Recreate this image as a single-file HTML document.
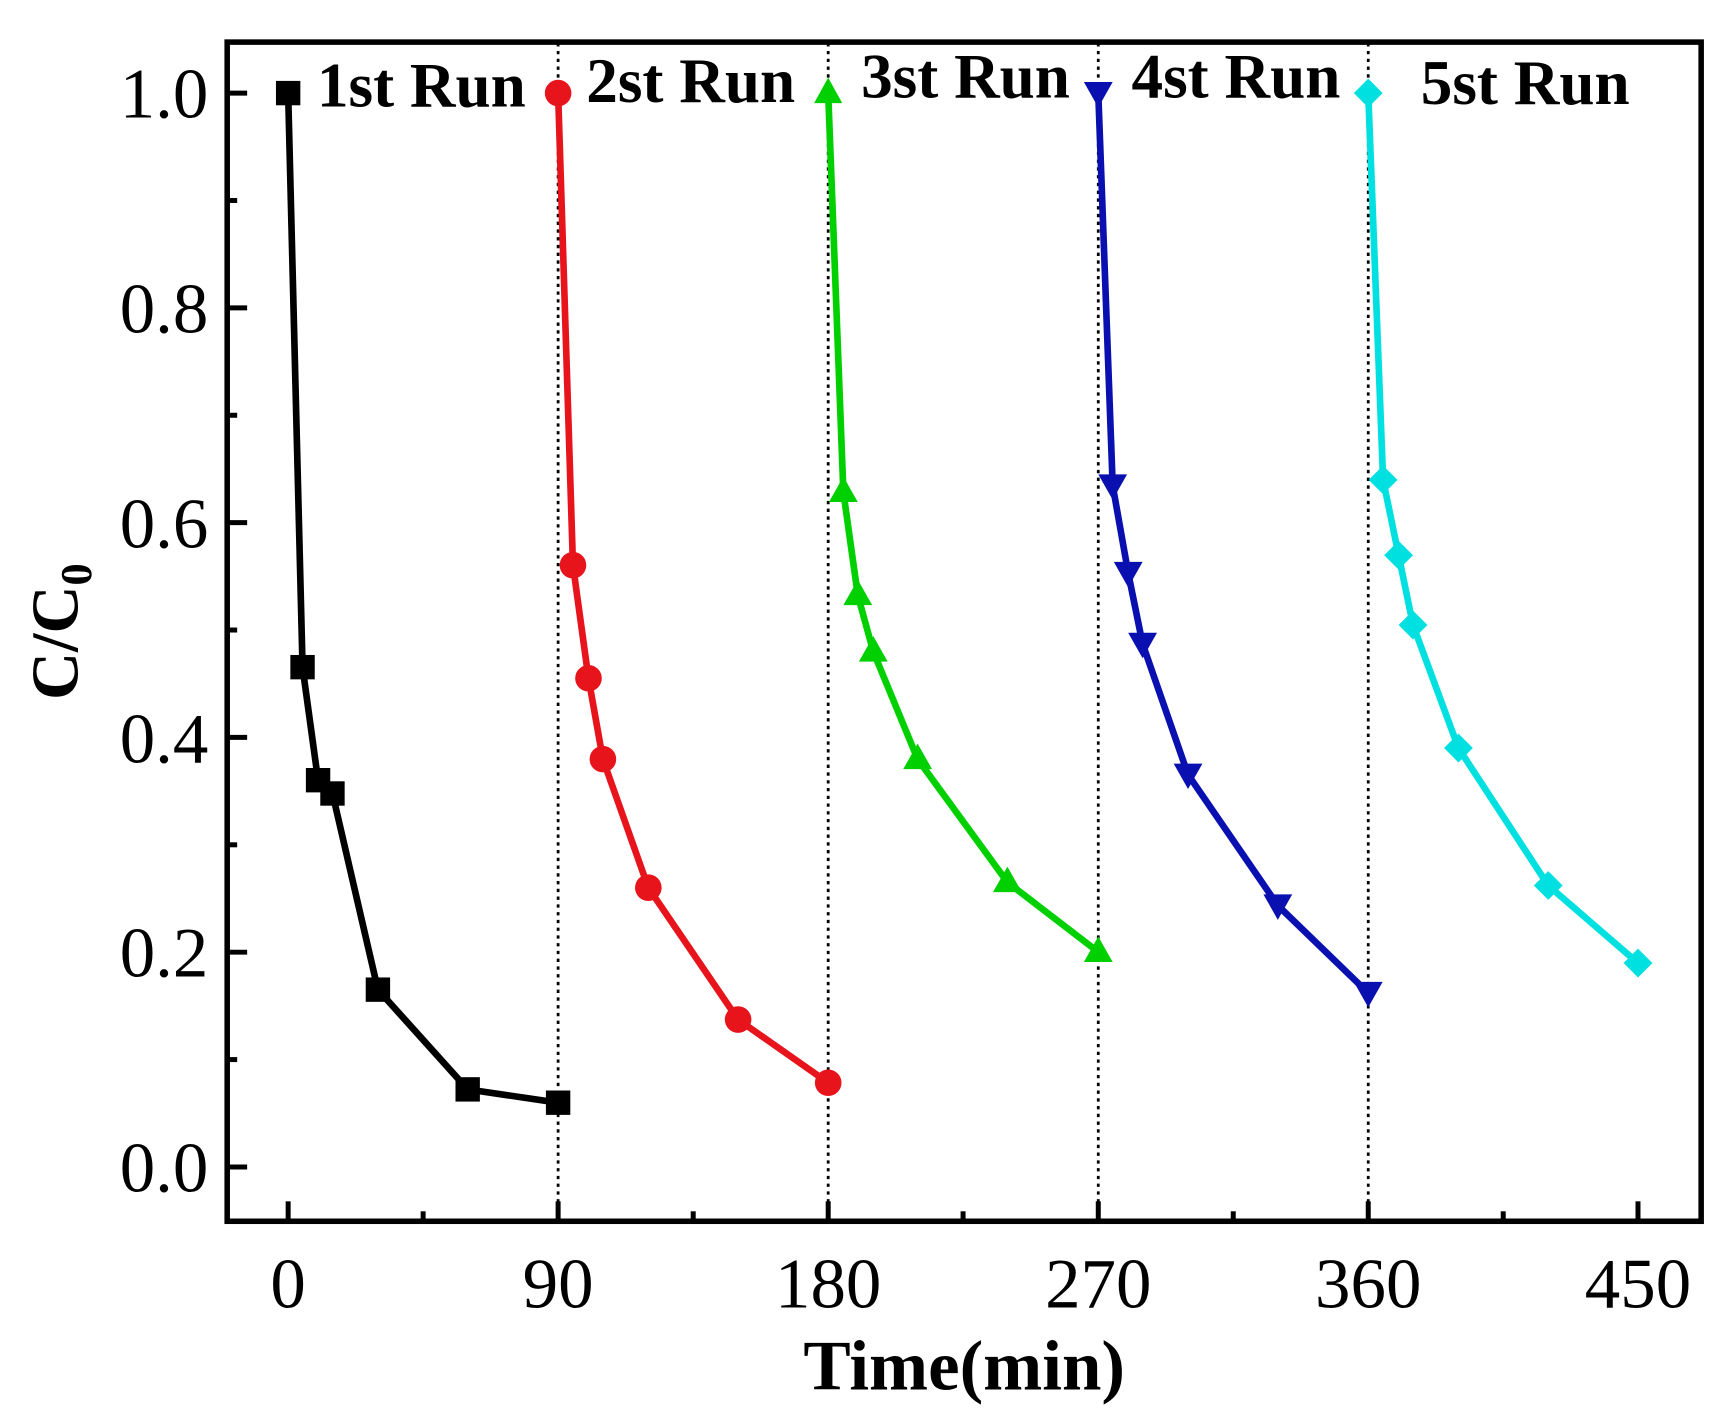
<!DOCTYPE html>
<html><head><style>html,body{margin:0;padding:0;background:#fff}svg{display:block}</style></head>
<body>
<svg width="1720" height="1411" viewBox="0 0 1552 1273.2" preserveAspectRatio="none" xmlns="http://www.w3.org/2000/svg" font-family="Liberation Serif, serif">
<g stroke="#000" stroke-width="2.5" stroke-dasharray="3,4">
<line x1="503.6" y1="39" x2="503.6" y2="1100"/>
<line x1="747.3" y1="39" x2="747.3" y2="1100"/>
<line x1="991" y1="39" x2="991" y2="1100"/>
<line x1="1234.6" y1="39" x2="1234.6" y2="1100"/>
</g>
<rect x="205" y="38" width="1330" height="1064" fill="none" stroke="#000" stroke-width="5"/>
<g stroke="#000" stroke-width="4.5">
<line x1="260" y1="1102" x2="260" y2="1084"/><line x1="503.6" y1="1102" x2="503.6" y2="1084"/><line x1="747.3" y1="1102" x2="747.3" y2="1084"/><line x1="991" y1="1102" x2="991" y2="1084"/><line x1="1234.6" y1="1102" x2="1234.6" y2="1084"/><line x1="1478" y1="1102" x2="1478" y2="1084"/>
<line x1="381.8" y1="1102" x2="381.8" y2="1093"/><line x1="625.5" y1="1102" x2="625.5" y2="1093"/><line x1="869" y1="1102" x2="869" y2="1093"/><line x1="1112.8" y1="1102" x2="1112.8" y2="1093"/><line x1="1356.4" y1="1102" x2="1356.4" y2="1093"/>
<line x1="205" y1="84" x2="223" y2="84"/><line x1="205" y1="277.8" x2="223" y2="277.8"/><line x1="205" y1="471.6" x2="223" y2="471.6"/><line x1="205" y1="665.4" x2="223" y2="665.4"/><line x1="205" y1="859.2" x2="223" y2="859.2"/><line x1="205" y1="1053" x2="223" y2="1053"/>
<line x1="205" y1="180.9" x2="214" y2="180.9"/><line x1="205" y1="374.7" x2="214" y2="374.7"/><line x1="205" y1="568.5" x2="214" y2="568.5"/><line x1="205" y1="762.3" x2="214" y2="762.3"/><line x1="205" y1="956.1" x2="214" y2="956.1"/>
</g>
<g font-size="64" text-anchor="end" fill="#000">
<text x="188" y="106">1.0</text><text x="188" y="300">0.8</text><text x="188" y="494">0.6</text><text x="188" y="688">0.4</text><text x="188" y="881">0.2</text><text x="188" y="1075">0.0</text>
</g>
<g font-size="64" text-anchor="middle" fill="#000">
<text x="260" y="1180">0</text><text x="503.6" y="1180">90</text><text x="747.3" y="1180">180</text><text x="991" y="1180">270</text><text x="1234.6" y="1180">360</text><text x="1478" y="1180">450</text>
</g>
<text x="870" y="1254" font-size="64" font-weight="bold" text-anchor="middle">Time(min)</text>
<text transform="translate(70,570) rotate(-90)" font-size="60" font-weight="bold" text-anchor="middle">C/C<tspan font-size="40" dy="12">0</tspan></text>
<g font-size="57" font-weight="bold">
<text x="286" y="96">1st Run</text><text x="529" y="92">2st Run</text><text x="777" y="88">3st Run</text><text x="1021" y="88">4st Run</text><text x="1282" y="94">5st Run</text>
</g>
<g fill="none" stroke-width="6" stroke-linejoin="round">
<polyline stroke="#000" points="260,84 273,602 287,704 300,716 341,893 422,983 503.6,995"/>
<polyline stroke="#e8141c" points="503.6,84 517,510 531,612 544,685 585,801 666,920 747.3,977"/>
<polyline stroke="#00d000" points="747.3,84 761,444 774,537 788,588 828,685 909,796 991,859"/>
<polyline stroke="#0a10b0" points="991,84 1004,438 1018,517 1031,581 1072,699 1153,817 1234.6,896"/>
<polyline stroke="#00e0e0" points="1234.6,84 1248,433 1262,501 1275,564 1316,675 1397,799 1478,869"/>
</g>
<g fill="#000"><rect x="249" y="73" width="22" height="22"/><rect x="262" y="591" width="22" height="22"/><rect x="276" y="693" width="22" height="22"/><rect x="289" y="705" width="22" height="22"/><rect x="330" y="882" width="22" height="22"/><rect x="411" y="972" width="22" height="22"/><rect x="492.6" y="984" width="22" height="22"/></g>
<g fill="#e8141c"><circle cx="503.6" cy="84" r="12"/><circle cx="517" cy="510" r="12"/><circle cx="531" cy="612" r="12"/><circle cx="544" cy="685" r="12"/><circle cx="585" cy="801" r="12"/><circle cx="666" cy="920" r="12"/><circle cx="747.3" cy="977" r="12"/></g>
<g fill="#00d000"><polygon points="747.3,70 760,93 734.6,93"/><polygon points="761,430 774,453 748,453"/><polygon points="774,523 787,546 761,546"/><polygon points="788,574 801,597 775,597"/><polygon points="828,671 841,694 815,694"/><polygon points="909,782 922,805 896,805"/><polygon points="991,845 1004,868 978,868"/></g>
<g fill="#0a10b0"><polygon points="978,74 1004,74 991,97"/><polygon points="991,428 1017,428 1004,451"/><polygon points="1005,507 1031,507 1018,530"/><polygon points="1018,571 1044,571 1031,594"/><polygon points="1059,689 1085,689 1072,712"/><polygon points="1140,807 1166,807 1153,830"/><polygon points="1221.6,886 1247.6,886 1234.6,909"/></g>
<g fill="#00e0e0"><polygon points="1234.6,71 1247.6,84 1234.6,97 1221.6,84"/><polygon points="1248,420 1261,433 1248,446 1235,433"/><polygon points="1262,488 1275,501 1262,514 1249,501"/><polygon points="1275,551 1288,564 1275,577 1262,564"/><polygon points="1316,662 1329,675 1316,688 1303,675"/><polygon points="1397,786 1410,799 1397,812 1384,799"/><polygon points="1478,856 1491,869 1478,882 1465,869"/></g>
</svg>
</body></html>
